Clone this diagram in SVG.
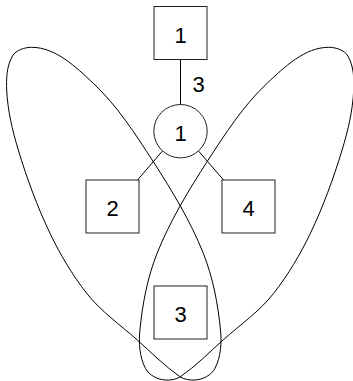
<svg xmlns="http://www.w3.org/2000/svg" width="353" height="381" viewBox="0 0 353 381">
<style>
.box{fill:#fff;stroke:#222;stroke-width:1}
.ln{fill:none;stroke:#000;stroke-width:1}
.t{font-family:"Liberation Sans","DejaVu Sans",sans-serif;font-size:22px;fill:#000;text-anchor:middle}
</style>
<defs>
<path id="loop" d="M31.7,47.3 C55.5,47.3 76.0,67.0 93.3,83.3 C117.3,105.8 135.4,134.1 153.3,161.7 C172.2,190.9 190.4,221.0 203.3,253.3 C213.0,277.6 217.9,303.9 220.5,330 C221.8,342.8 220.9,356.8 215,368.3 C211.5,375.2 202.7,379.6 195,380 C189.9,380.3 184.4,379.6 180,376.7 C164.5,366.0 151.3,352.5 137.3,340 C120.1,324.7 100.9,311.4 86.7,293.3 C72.3,274.9 60.1,254.4 50,233.3 C37.2,206.5 26.9,178.4 18.3,150 C12.4,130.5 7.6,110.4 6.7,90 C6.2,78.5 6.7,65.9 12.5,56 C16.0,50.0 24.7,47.3 31.7,47.3 Z"/>
</defs>
<g id="connectors">
<line class="ln" x1="180.5" y1="59.5" x2="180.5" y2="104.5"/>
<text class="t" x="198.5" y="91.5">3</text>
<line class="ln" x1="162.4" y1="151.1" x2="137.5" y2="180"/>
<line class="ln" x1="198.6" y1="151.1" x2="223.5" y2="180"/>
<use href="#loop" class="ln"/>
<use href="#loop" class="ln" transform="translate(360.4,0) scale(-1,1)"/>
</g>
<g id="n1top">
<rect class="box" x="154" y="6.5" width="53" height="53"/>
<text class="t" x="180.5" y="42.5">1</text>
</g>
<g id="n1circle">
<circle class="box" cx="180.5" cy="131.2" r="26.7"/>
<text class="t" x="180.5" y="140.5">1</text>
</g>
<g id="n2">
<rect class="box" x="86" y="180" width="53" height="53"/>
<text class="t" x="112.5" y="216">2</text>
</g>
<g id="n4">
<rect class="box" x="222" y="180" width="53" height="53"/>
<text class="t" x="248.5" y="216">4</text>
</g>
<g id="n3">
<rect class="box" x="154" y="286" width="53" height="53"/>
<text class="t" x="180.5" y="322">3</text>
</g>
</svg>
